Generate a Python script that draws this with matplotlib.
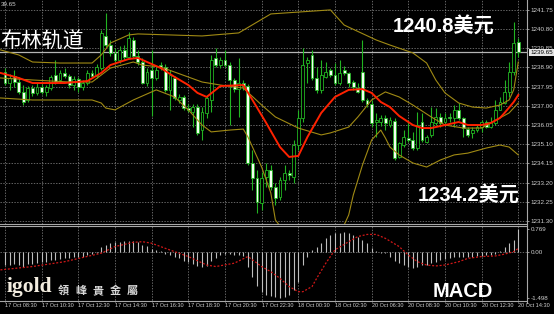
import matplotlib
matplotlib.use('Agg')
import matplotlib.pyplot as plt
from matplotlib.lines import Line2D
from matplotlib import transforms
import numpy as np

plt.rcParams['font.family'] = ['Liberation Sans', 'Noto Sans CJK SC']

# ---- data (15 min gold candles) ----
time_labels = ['17 Oct 08:30', '17 Oct 10:30', '17 Oct 12:30', '17 Oct 14:30',
               '17 Oct 16:30', '17 Oct 18:30', '17 Oct 20:30', '17 Oct 22:30',
               '18 Oct 00:30', '18 Oct 02:30', '20 Oct 06:30', '20 Oct 08:30',
               '20 Oct 10:30', '20 Oct 12:30', '20 Oct 14:30']
price_ticks = [1241.75, 1240.80, 1239.85, 1238.90, 1237.95, 1237.00,
               1236.05, 1235.10, 1234.15, 1233.20, 1232.25, 1231.30]
macd_ticks = [0.769, 0.00, -1.498]
macd_tick_labels = ['0.769', '0.00', '-1.498']
last_price = 1239.65

opens = [
    1238.68, 1238.13, 1238.48, 1238.18, 1237.69, 1237.29, 1237.88, 1237.64, 1237.93, 1237.69,
    1237.88, 1238.53, 1238.28, 1238.63, 1238.48, 1238.03, 1238.33, 1237.93, 1238.13, 1238.63,
    1238.48, 1238.87, 1240.46, 1240.01, 1239.62, 1239.27, 1239.77, 1239.42, 1240.26, 1239.47,
    1239.17, 1238.13, 1238.78, 1238.38, 1239.02, 1238.92, 1237.79, 1238.38, 1237.29, 1237.44,
    1236.89, 1236.70, 1236.94, 1235.80, 1236.65, 1237.29, 1239.37, 1239.02, 1239.27, 1239.02,
    1238.28, 1237.83, 1238.13, 1237.98, 1234.17, 1233.43, 1232.19, 1233.48, 1233.82, 1232.98,
    1232.49, 1233.33, 1233.68, 1233.48, 1235.06, 1236.40, 1239.12, 1239.52, 1238.38, 1237.79,
    1238.43, 1238.78, 1238.53, 1238.13, 1238.78, 1238.63, 1238.18, 1237.88, 1238.68, 1237.29,
    1237.09, 1236.20, 1236.20, 1236.40, 1236.05, 1236.25, 1234.47, 1235.06, 1235.41, 1235.31,
    1234.91, 1236.20, 1235.21, 1235.56, 1236.15, 1236.45, 1236.20, 1236.45, 1236.40, 1236.80,
    1236.40, 1235.85, 1235.66, 1235.80, 1235.95, 1236.20, 1235.95, 1236.15, 1236.80, 1237.14,
    1237.69, 1238.68, 1240.16]
highs = [
    1238.87, 1238.58, 1238.78, 1238.43, 1238.03, 1237.98, 1238.03, 1238.18, 1238.08, 1238.03,
    1238.53, 1239.27, 1238.78, 1238.87, 1238.58, 1238.48, 1238.43, 1238.28, 1238.78, 1238.78,
    1239.07, 1240.76, 1241.60, 1240.26, 1239.86, 1239.96, 1240.01, 1240.66, 1240.41, 1239.77,
    1239.37, 1238.87, 1239.77, 1238.92, 1239.17, 1239.07, 1238.78, 1238.48, 1237.59, 1237.54,
    1237.09, 1237.09, 1237.09, 1236.94, 1237.54, 1239.52, 1239.86, 1239.42, 1239.77, 1239.17,
    1238.38, 1239.37, 1238.28, 1238.08, 1234.81, 1233.82, 1233.73, 1234.17, 1234.07, 1233.18,
    1233.48, 1234.07, 1233.82, 1235.31, 1236.80, 1239.86, 1239.42, 1239.77, 1238.92, 1239.27,
    1239.17, 1238.87, 1239.12, 1239.27, 1238.97, 1238.68, 1238.28, 1238.13, 1240.26, 1237.39,
    1237.29, 1236.65, 1236.55, 1236.55, 1236.45, 1236.40, 1235.21, 1235.80, 1236.30, 1235.71,
    1236.70, 1236.65, 1235.56, 1236.94, 1236.89, 1236.65, 1236.65, 1236.65, 1237.04, 1237.14,
    1236.45, 1235.95, 1235.95, 1236.05, 1236.30, 1236.30, 1236.45, 1237.29, 1237.44, 1238.28,
    1239.17, 1241.15, 1240.36]
lows = [
    1238.03, 1237.79, 1237.93, 1237.59, 1237.04, 1237.19, 1237.49, 1237.54, 1237.59, 1237.49,
    1237.79, 1238.08, 1238.13, 1238.38, 1237.88, 1237.79, 1237.69, 1237.79, 1238.03, 1238.38,
    1238.38, 1238.78, 1239.91, 1239.47, 1239.07, 1239.12, 1239.27, 1239.37, 1239.37, 1239.02,
    1238.08, 1237.98, 1236.50, 1238.28, 1238.78, 1237.69, 1236.80, 1237.29, 1237.14, 1236.80,
    1236.70, 1235.95, 1235.56, 1235.31, 1236.40, 1236.70, 1238.92, 1238.87, 1238.92, 1236.05,
    1237.69, 1236.45, 1237.79, 1234.07, 1232.83, 1231.70, 1231.84, 1232.98, 1232.83, 1232.09,
    1232.34, 1232.83, 1233.33, 1233.18, 1234.81, 1236.20, 1238.13, 1238.28, 1237.64, 1237.64,
    1238.38, 1238.43, 1238.03, 1238.03, 1238.53, 1237.93, 1237.79, 1237.64, 1237.19, 1236.94,
    1235.95, 1235.46, 1236.00, 1235.80, 1235.95, 1234.32, 1234.42, 1234.96, 1235.21, 1234.81,
    1234.81, 1235.21, 1235.16, 1235.46, 1236.05, 1235.95, 1236.15, 1236.20, 1235.95, 1236.30,
    1235.46, 1235.46, 1235.41, 1235.71, 1235.71, 1235.90, 1235.90, 1236.05, 1236.80, 1237.09,
    1237.44, 1238.53, 1239.42]
closes = [
    1238.13, 1238.38, 1238.18, 1237.69, 1237.19, 1237.88, 1237.64, 1237.93, 1237.69, 1237.93,
    1238.43, 1238.18, 1238.63, 1238.48, 1238.03, 1238.33, 1237.93, 1238.13, 1238.63, 1238.48,
    1238.92, 1240.61, 1240.01, 1239.62, 1239.27, 1239.77, 1239.42, 1240.36, 1239.47, 1239.17,
    1238.13, 1238.68, 1238.38, 1238.78, 1238.92, 1237.79, 1238.53, 1237.39, 1237.44, 1236.89,
    1236.80, 1236.94, 1235.66, 1236.70, 1237.39, 1239.27, 1239.02, 1239.27, 1239.02, 1238.28,
    1237.83, 1238.13, 1237.98, 1234.17, 1233.43, 1232.24, 1233.43, 1233.82, 1232.98, 1232.44,
    1233.33, 1233.68, 1233.58, 1235.06, 1236.40, 1239.02, 1239.27, 1238.38, 1237.79, 1238.53,
    1238.68, 1238.53, 1238.13, 1238.63, 1238.63, 1238.13, 1237.93, 1237.69, 1237.29, 1237.09,
    1236.15, 1236.30, 1236.40, 1236.15, 1236.30, 1234.42, 1235.16, 1235.46, 1235.31, 1234.91,
    1236.05, 1235.31, 1235.46, 1236.20, 1236.45, 1236.15, 1236.40, 1236.40, 1236.80, 1236.40,
    1235.90, 1235.56, 1235.80, 1235.95, 1236.20, 1235.95, 1236.20, 1236.80, 1237.19, 1237.69,
    1238.68, 1240.11, 1239.65]

# moving average (red) and bollinger bands (olive), vertices at candle index
red_idx = [-1, 3, 6, 13, 18, 21, 23, 27, 29, 31, 34, 37, 40, 42, 44, 47, 52, 54, 57, 60, 62,
           64, 66, 69, 72, 75, 78, 80, 82, 84, 86, 89, 91, 93, 96, 99, 101, 104, 106, 108,
           109, 111, 112]
red_val = [1238.63, 1238.38, 1238.13, 1238.13, 1238.23, 1238.63, 1239.02, 1239.32, 1239.37,
           1239.17, 1238.87, 1238.43, 1238.03, 1237.64, 1237.44, 1237.98, 1238.03, 1237.29,
           1236.15, 1234.96, 1234.47, 1234.52, 1235.46, 1236.65, 1237.44, 1237.79, 1237.83,
           1237.64, 1237.19, 1236.94, 1236.50, 1236.05, 1235.90, 1235.90, 1236.05, 1236.20,
           1236.05, 1236.05, 1236.15, 1236.40, 1236.65, 1237.19, 1237.54]
upper_idx = [-1, 3, 6, 12, 19, 21, 23, 27, 29, 43, 51, 58, 71, 74, 81, 84, 89, 92, 94, 96,
             99, 102, 105, 108, 110, 111, 112]
upper_val = [1239.77, 1239.52, 1239.17, 1239.12, 1239.12, 1239.52, 1240.11, 1240.51, 1240.56,
             1240.46, 1240.61, 1241.55, 1241.75, 1241.00, 1240.26, 1240.01, 1239.62, 1239.12,
             1238.28, 1237.64, 1237.14, 1236.94, 1236.89, 1237.04, 1237.29, 1237.79, 1239.17]
mid_idx = [-1, 6, 14, 19, 23, 28, 30, 34, 43, 47, 52, 56, 59, 64, 69, 71, 75, 77, 80, 83, 86,
           89, 93, 96, 100, 104, 106, 110, 112]
mid_val = [1238.38, 1238.28, 1238.18, 1238.18, 1238.87, 1239.17, 1239.02, 1238.92, 1238.18,
           1238.03, 1237.88, 1237.04, 1236.45, 1235.90, 1235.56, 1235.66, 1235.95, 1236.45,
           1237.29, 1237.69, 1237.44, 1237.04, 1236.45, 1236.05, 1235.90, 1235.90, 1236.15,
           1236.65, 1237.14]
low_idx = [-1, 6, 12, 19, 21, 22, 24, 28, 33, 37, 40, 43, 45, 49, 52, 53, 56, 58, 59, 64, 71,
           74, 75, 76, 78, 80, 82, 83, 84, 86, 89, 92, 95, 98, 101, 105, 108, 110, 112]
low_val = [1237.39, 1237.29, 1237.29, 1237.29, 1237.14, 1236.89, 1236.80, 1237.29, 1237.79,
           1237.44, 1236.80, 1236.05, 1235.71, 1235.80, 1235.85, 1235.46, 1233.97, 1232.69,
           1231.35, 1229.87, 1229.87, 1231.10, 1231.60, 1232.59, 1234.07, 1235.31, 1235.80,
           1235.41, 1234.96, 1234.57, 1234.17, 1233.97, 1234.32, 1234.57, 1234.66, 1234.91,
           1235.06, 1234.96, 1234.57]

macd_hist = [
    -0.42, -0.42, -0.40, -0.42, -0.47, -0.40, -0.38, -0.36, -0.33, -0.31,
    -0.27, -0.25, -0.22, -0.20, -0.18, -0.17, -0.16, -0.14, -0.10, -0.05,
    -0.02, 0.18, 0.25, 0.30, 0.33, 0.35, 0.36, 0.38, 0.37, 0.35,
    0.25, 0.20, 0.12, 0.08, 0.05, -0.05, -0.10, -0.15, -0.20, -0.28,
    -0.33, -0.38, -0.45, -0.50, -0.45, -0.30, -0.18, -0.10, -0.05, -0.05,
    -0.08, -0.10, -0.12, -0.50, -0.80, -1.10, -1.30, -1.40, -1.45, -1.47,
    -1.498, -1.48, -1.41, -1.24, -0.97, -0.42, -0.14, 0.08, 0.19, 0.30,
    0.46, 0.57, 0.63, 0.65, 0.68, 0.63, 0.57, 0.52, 0.41, 0.30,
    0.13, 0.03, -0.01, -0.03, -0.14, -0.30, -0.36, -0.42, -0.47, -0.53,
    -0.47, -0.42, -0.42, -0.36, -0.31, -0.25, -0.23, -0.20, -0.14, -0.14,
    -0.15, -0.16, -0.15, -0.13, -0.12, -0.10, -0.08, -0.05, 0.05, 0.19,
    0.30, 0.40, 0.769]
signal_idx = [-1, 6, 13, 21, 24, 28, 30, 32, 35, 40, 44, 46, 50, 53, 56, 58, 60, 62, 64, 65,
              67, 68, 70, 72, 75, 77, 79, 81, 83, 86, 88, 90, 92, 94, 96, 99, 101, 104, 107,
              109, 111, 112]
signal_val = [-0.58, -0.47, -0.31, -0.03, 0.19, 0.33, 0.35, 0.30, 0.13, -0.14, -0.42, -0.47,
              -0.36, -0.14, -0.47, -0.64, -0.86, -1.13, -1.30, -1.30, -1.13, -0.86, -0.36,
              0.08, 0.35, 0.52, 0.59, 0.59, 0.46, 0.19, -0.09, -0.31, -0.42, -0.45, -0.42,
              -0.31, -0.20, -0.14, -0.12, -0.06, 0.02, 0.13]

# ---- styling ----
W, H = 554, 314
GREEN = '#22b422'
BEAR = '#f2fff0'
OLIVE = '#a08a14'
GRID = '#8c8c8c'
LABEL = '#cfcfcf'
dash = (0, (2, 2))


def fx(px):
    return px / W


def fy(py):
    return 1 - py / H


fig = plt.figure(figsize=(W / 100, H / 100), dpi=100, facecolor='black')
ax = fig.add_axes([0, fy(224), fx(527), 224 / H], facecolor='black')
mx = fig.add_axes([0, fy(300), fx(527), 74 / H], facecolor='black')

for a in (ax, mx):
    a.set_xlim(-1.09, 113.9)
    for s in a.spines.values():
        s.set_visible(False)
    a.set_xticks(range(0, 113, 8))
    a.grid(True, axis='x', color=GRID, linestyle=dash, lw=0.5)
    a.set_axisbelow(True)
    a.yaxis.tick_right()
    a.tick_params(axis='y', colors=LABEL, labelsize=4.5, length=1.5, width=0.5, pad=1)

# main panel
ax.tick_params(axis='x', length=0, labelbottom=False)
ax.set_ylim(1231.15, 1242.24)
ax.set_yticks(price_ticks)
ax.set_yticklabels(['%.2f' % p for p in price_ticks])
ax.grid(True, axis='y', color=GRID, linestyle=dash, lw=0.5)

ax.axhline(last_price, color='#b4b4b4', lw=0.9, zorder=1)

idx = np.arange(len(opens))
o = np.array(opens)
c = np.array(closes)
ax.vlines(idx, lows, highs, color=GREEN, lw=0.8, zorder=2)
faces = np.where(c < o, BEAR, 'black')
ax.bar(idx, np.maximum(np.abs(c - o), 0.02), bottom=np.minimum(o, c), width=0.62,
       color=faces, edgecolor=GREEN, linewidth=0.6, zorder=3)

ax.plot(upper_idx, upper_val, color=OLIVE, lw=0.8, zorder=4)
ax.plot(mid_idx, mid_val, color=OLIVE, lw=0.8, zorder=4)
ax.plot(low_idx, low_val, color=OLIVE, lw=0.8, zorder=4)
ax.plot(red_idx, red_val, color='#ff2200', lw=1.4, zorder=5)

trans = transforms.blended_transform_factory(ax.transAxes, ax.transData)
ax.text(1.006, last_price, '%.2f' % last_price, transform=trans, fontsize=4.5,
        color='black', va='center', ha='left', clip_on=False, zorder=10,
        bbox=dict(boxstyle='square,pad=0.15', fc='#e4e4e4', ec='none'))

# macd panel
mx.set_ylim(-1.574, 0.868)
mx.set_yticks(macd_ticks)
mx.set_yticklabels(macd_tick_labels)
mx.axhline(0, color=GRID, linestyle=dash, lw=0.5, zorder=0)
mx.vlines(idx, 0, macd_hist, color='#bdbdbd', lw=0.8, zorder=2)
mx.plot(signal_idx, signal_val, color='#d01818', lw=0.9, linestyle=(0, (1.6, 1.4)), zorder=3)
mx.set_xticklabels(time_labels)
mx.tick_params(axis='x', colors=LABEL, labelsize=4.0, length=1.5, width=0.5, pad=1)
for t in mx.get_xticklabels():
    t.set_ha('left')

# frame lines
for yy in (223.5, 225.8, 300.5):
    fig.add_artist(Line2D([0, fx(527)], [fy(yy), fy(yy)], color='#a8a8a8', lw=0.8))
fig.add_artist(Line2D([fx(527), fx(527)], [fy(0), fy(303)], color='#a8a8a8', lw=0.8))

# annotations
fig.text(fx(1), fy(4), '39.65', fontsize=4.5, color=LABEL, va='center')
fig.text(fx(0), fy(48), '布林轨道', fontsize=15, color='white', va='baseline',
         family=['Noto Sans CJK SC'])
fig.text(fx(393), fy(32), '1240.8美元', fontsize=14.5, color='white', va='baseline',
         weight='bold')
fig.text(fx(418), fy(201), '1234.2美元', fontsize=14.5, color='white', va='baseline',
         weight='bold')
fig.text(fx(433), fy(297), 'MACD', fontsize=14.5, color='white', va='baseline',
         weight='bold')
fig.text(fx(7), fy(292), 'igold', fontsize=15.5, color='#f3ede0', va='baseline',
         weight='bold', family=['Liberation Serif'])
for k, ch in enumerate('領峰貴金屬'):
    fig.text(fx(63.5 + 17.25 * k), fy(294), ch, fontsize=8, color='#d8d8d8',
             ha='center', va='baseline', weight='bold', family=['Noto Sans CJK TC'])

fig.savefig('out.png', dpi=100, facecolor='black')
